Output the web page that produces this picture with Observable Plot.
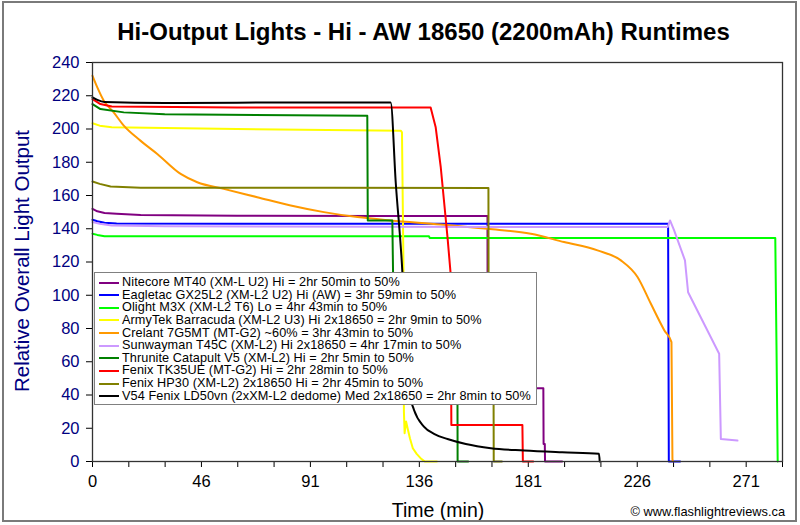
<!DOCTYPE html>
<html><head><meta charset="utf-8">
<script src="https://cdn.jsdelivr.net/npm/d3@7"></script>
<script src="https://cdn.jsdelivr.net/npm/@observablehq/plot@0.6"></script>
<style>
body{margin:0;background:#fff;}
#wrap{position:relative;width:800px;height:525px;font-family:"Liberation Sans",Arial,sans-serif;overflow:hidden;background:#fff;}
#border{position:absolute;left:2px;top:1px;width:795px;height:521px;border:2px solid #7a7a7a;box-sizing:border-box;pointer-events:none;}
#title{position:absolute;left:23.5px;width:800px;top:17.5px;text-align:center;font-weight:bold;font-size:24px;line-height:27.6px;color:#000;white-space:nowrap;}
#ylab{position:absolute;left:22px;top:261px;transform:translate(-50%,-50%) rotate(-90deg);white-space:nowrap;font-size:20.5px;color:#000080;}
#xlab{position:absolute;left:438px;top:510px;transform:translate(-50%,-50%);font-size:19.5px;color:#000;white-space:nowrap;}
#copy{position:absolute;right:15px;top:511px;transform:translateY(-50%);font-size:12.8px;color:#000;white-space:nowrap;}
#legend{position:absolute;left:94px;top:272px;width:443px;height:133px;border:1.5px solid #808080;box-sizing:border-box;background:#fff;padding-top:3px;}
.row{position:relative;height:12.65px;line-height:12.65px;font-size:12.7px;letter-spacing:0.08px;white-space:nowrap;color:#000;}
.sw{position:absolute;left:4px;top:5.5px;width:20px;height:2px;}
.lt{position:absolute;left:27px;top:0;}
svg{position:absolute;left:0;top:0;}
</style></head><body><div id="wrap"></div>
<script>
// ---- Data ----
const seriesNames = [
  "Nitecore MT40 (XM-L U2) Hi = 2hr 50min to 50%",
  "Eagletac GX25L2 (XM-L2 U2) Hi (AW) = 3hr 59min to 50%",
  "Olight M3X (XM-L2 T6) Lo = 4hr 43min to 50%",
  "ArmyTek Barracuda (XM-L2 U3) Hi 2x18650 = 2hr 9min to 50%",
  "Crelant 7G5MT (MT-G2) ~60% = 3hr 43min to 50%",
  "Sunwayman T45C (XM-L2) Hi 2x18650 = 4hr 17min to 50%",
  "Thrunite Catapult V5 (XM-L2) Hi = 2hr 5min to 50%",
  "Fenix TK35UE (MT-G2) Hi = 2hr 28min to 50%",
  "Fenix HP30 (XM-L2) 2x18650 Hi = 2hr 45min to 50%",
  "V54 Fenix LD50vn (2xXM-L2 dedome) Med 2x18650 = 2hr 8min to 50%"
];
const seriesColors = ["#800080","#0000ff","#00ff00","#ffff00","#ff9900","#cc99ff","#008000","#ff0000","#808000","#000000"];
const seriesCurves = ["linear","linear","linear","linear","monotone-x","linear","linear","linear","linear","monotone-x"];

// [time (min), relative output]
const nitecore = [[0,152],[2,150.5],[5,149.5],[10,149],[20,148.3],[60,147.8],[120,147.6],[164,147.6],[164.1,44],[187.2,44],[187.3,10.6],[187.8,10.6],[187.9,0],[195,0]];
const eagletac = [[0,145.4],[2,144.5],[5,143.6],[10,143.2],[60,143],[150,143],[239,143],[239.3,0],[244,0]];
const olight = [[0,137],[2,136.3],[5,135.5],[60,135.5],[139.7,135.5],[140,134.5],[200,134.5],[283.5,134.5],[284,70],[284.5,0]];
const armytek = [[0,203.5],[3,202],[8,201],[60,200],[128,199],[128.5,198],[129.1,120],[129.3,30],[129.6,17],[130.2,24],[131,19],[131.8,14],[133,8],[134.6,4.6],[136.5,1.6],[138,0],[143,0]];
const crelant = [[0,232],[2,225],[4.7,217],[8.8,210],[13,202],[19.9,193],[26.9,185],[36.6,173],[43.5,168],[54.5,164],[68.4,159],[82.3,154],[96.1,150],[110,147],[123.8,145],[144.6,142.6],[164,140],[182,137],[195.8,132],[209.7,127],[219.4,121],[226.3,111],[231.8,95],[237.4,79],[240.4,71.8],[240.8,1.6],[241,0]];
const sunwayman = [[0,144],[3,143],[8,142],[30,141.5],[120,141.2],[238.8,141],[239.8,145],[241.5,139],[246,121],[247.3,101.8],[260.2,64.8],[260.9,13.6],[267.8,12.6]];
const thrunite = [[0,215],[3.3,212],[13,210],[30,208.8],[114.1,208],[114.3,145],[124.5,145],[125.2,70],[151.5,70],[151.6,0],[156,0]];
const fenixTK35 = [[0,218],[3.3,215],[8,213.5],[60,213],[140.4,213],[142.5,201],[144.6,177],[147.4,135],[148.7,113],[149,22],[178.5,22],[178.7,0],[183,0]];
const fenixHP30 = [[0,168.4],[3,167],[7.5,165.4],[20,164.7],[100,164.6],[164.4,164.5],[164.5,60],[166.5,60],[166.6,0],[170,0]];
const v54 = [[0,219],[2,217.5],[5,216.3],[30,215.7],[90,216],[123.8,216],[125.9,168],[128.7,113],[130.7,47],[133.5,31],[137.6,21],[142,16.5],[147.4,13.5],[155,10.5],[165.4,8],[179.2,6.6],[195,5.5],[210.3,4.6],[210.6,0]];

const seriesData = [nitecore, eagletac, olight, armytek, crelant, sunwayman, thrunite, fenixTK35, fenixHP30, v54];

const xMax = 286.5;            // axis end (min)
const xTickCount = 19;         // intervals on the time axis
const xTickLabels = ["0","46","91","136","181","226","271"]; // every 3rd tick
const yTicks = [0,20,40,60,80,100,120,140,160,180,200,220,240];

const titleText = "Hi-Output Lights - Hi - AW 18650 (2200mAh) Runtimes";
const yLabel = "Relative Overall Light Output";
const xLabel = "Time (min)";
const copyright = "\u00a9 www.flashlightreviews.ca";

// ---- Build ----
const rows = [];
seriesData.forEach((s, i) => s.forEach(([t, v]) => rows.push({t, v, series: seriesNames[i], idx: i})));
const xTicks = d3.range(0, xTickCount + 1).map(k => k * xMax / xTickCount);
const xFmt = d => { const k = Math.round(d / (xMax / xTickCount)); return k % 3 === 0 ? (xTickLabels[k / 3] ?? "") : ""; };

const chart = Plot.plot({
  width: 800, height: 525,
  marginLeft: 92, marginRight: 18, marginTop: 62, marginBottom: 64,
  style: {fontFamily: '"Liberation Sans", Arial, sans-serif', background: "transparent", overflow: "visible"},
  x: {domain: [0, xMax]},
  y: {domain: [0, 240]},
  marks: [
    Plot.axisY({ticks: yTicks, tickSize: 6, tickPadding: 7, fill: "#000080", stroke: "#000", fontSize: 16.5, label: null}),
    Plot.axisX({ticks: xTicks, tickSize: 6, tickPadding: 8, tickFormat: xFmt, fill: "#000", stroke: "#000", fontSize: 16.5, label: null}),
    ...seriesData.map((s, i) => Plot.line(rows.filter(r => r.idx === i), {x: "t", y: "v", stroke: seriesColors[i], strokeWidth: 2, curve: seriesCurves[i]})),
    Plot.frame({stroke: "#333", strokeWidth: 1.3})
  ]
});

const wrap = document.getElementById("wrap");
wrap.appendChild(chart);
const add = (id, text) => { const d = document.createElement("div"); d.id = id; if (text) d.textContent = text; wrap.appendChild(d); return d; };
add("title", titleText);
add("ylab", yLabel);
add("xlab", xLabel);
add("copy", copyright);
const leg = add("legend");
seriesNames.forEach((n, i) => {
  const r = document.createElement("div"); r.className = "row";
  const sw = document.createElement("div"); sw.className = "sw"; sw.style.background = seriesColors[i];
  const lt = document.createElement("div"); lt.className = "lt"; lt.textContent = n;
  r.appendChild(sw); r.appendChild(lt); leg.appendChild(r);
});
add("border");
</script>
</body></html>
